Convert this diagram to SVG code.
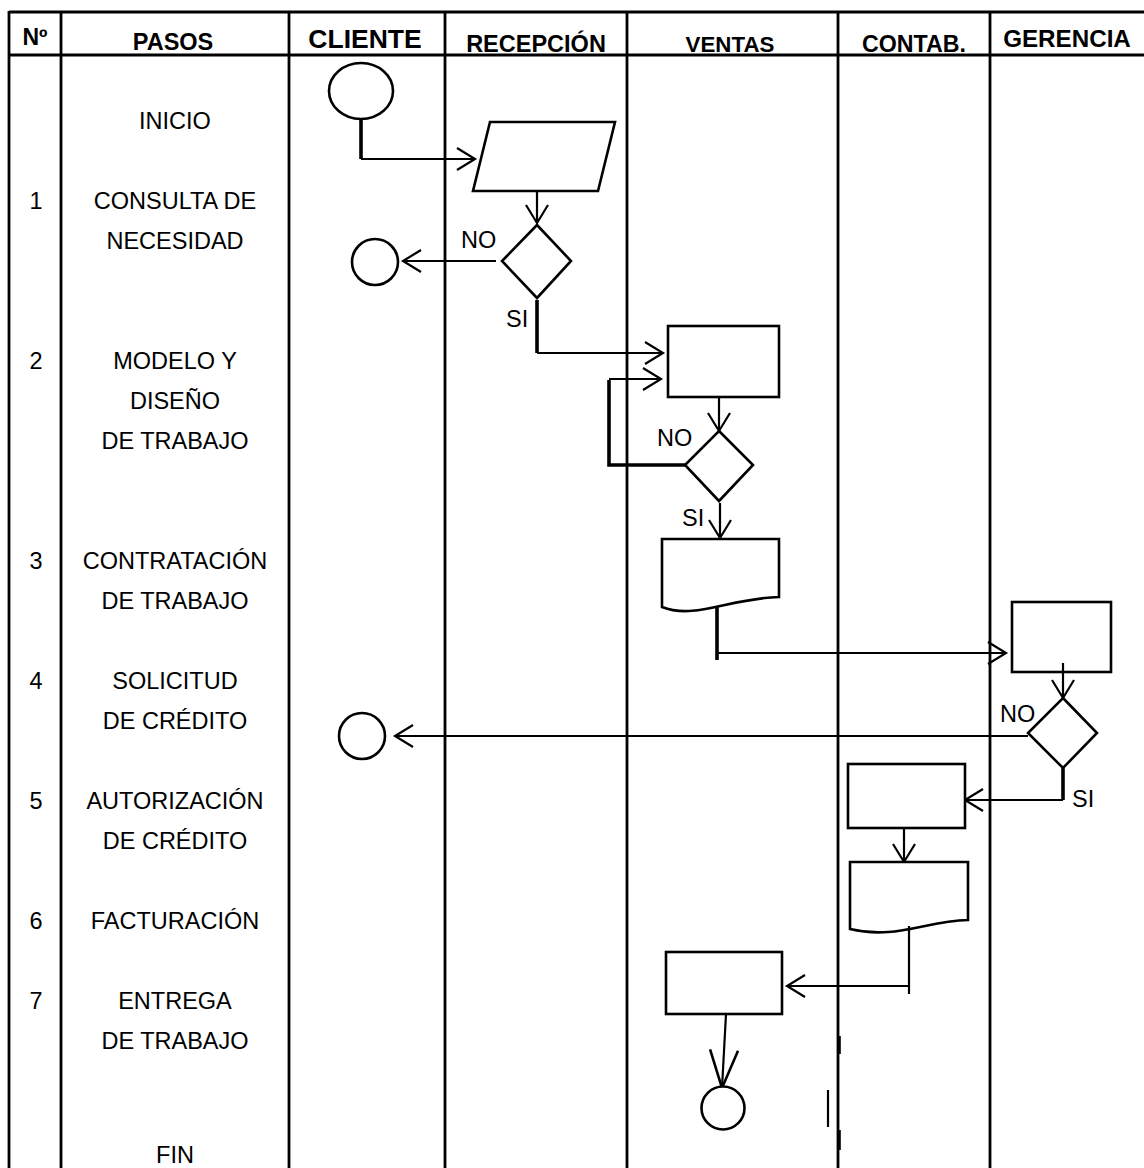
<svg xmlns="http://www.w3.org/2000/svg" width="1144" height="1168" viewBox="0 0 1144 1168">
<style>
.grid{stroke:#000;stroke-width:2.8;fill:none}
.shape{fill:#fff;stroke:#000;stroke-width:2.6}
.conn{fill:none;stroke:#000;stroke-width:2.2}
.thick{fill:none;stroke:#000;stroke-width:3.6}
.hd{font-family:"Liberation Sans",Arial,sans-serif;font-weight:bold;fill:#000;text-anchor:middle}
.tx{font-family:"Liberation Sans",Arial,sans-serif;font-size:23.5px;fill:#000;text-anchor:middle}
.lbl{font-family:"Liberation Sans",Arial,sans-serif;font-size:23.5px;fill:#000}
</style>
<defs>
<marker id="arr" viewBox="-20 -13 22 26" refX="0" refY="0" markerWidth="22" markerHeight="26" markerUnits="userSpaceOnUse" orient="auto" overflow="visible">
<path d="M-18,-11 L0,0 L-18,11" fill="none" stroke="#000" stroke-width="2.2"/>
</marker>
<marker id="arrBig" viewBox="-40 -16 42 32" refX="0" refY="0" markerWidth="42" markerHeight="32" markerUnits="userSpaceOnUse" orient="auto" overflow="visible">
<path d="M-38,-14 L0,0 L-38,14" fill="none" stroke="#000" stroke-width="2.6"/>
</marker>
</defs>
<rect width="1144" height="1168" fill="#fff"/>
<g id="table">
<line class="grid" x1="9" y1="12" x2="1144" y2="12"/>
<line class="grid" x1="9" y1="55" x2="1144" y2="55"/>
<line class="grid" x1="9" y1="11" x2="9" y2="1168"/>
<line class="grid" x1="61" y1="11" x2="61" y2="1168"/>
<line class="grid" x1="289" y1="11" x2="289" y2="1168"/>
<line class="grid" x1="445" y1="11" x2="445" y2="1168"/>
<line class="grid" x1="627" y1="11" x2="627" y2="1168"/>
<line class="grid" x1="838" y1="11" x2="838" y2="1168"/>
<line class="grid" x1="990" y1="11" x2="990" y2="1168"/>
<line x1="839" y1="1036" x2="839" y2="1054" stroke="#000" stroke-width="3.6"/>
<line x1="839" y1="1130" x2="839" y2="1150" stroke="#000" stroke-width="3.6"/>
<line x1="828" y1="1090" x2="828" y2="1127" stroke="#000" stroke-width="2.2"/>
<text class="hd" x="35" y="45" font-size="23">Nº</text>
<text class="hd" x="173" y="50" font-size="23.5">PASOS</text>
<text class="hd" x="365" y="48" font-size="26.5">CLIENTE</text>
<text class="hd" x="536" y="52" font-size="23.5">RECEPCIÓN</text>
<text class="hd" x="730" y="52" font-size="22.3">VENTAS</text>
<text class="hd" x="914" y="52" font-size="23.2">CONTAB.</text>
<text class="hd" x="1067" y="47" font-size="24.2">GERENCIA</text>
</g>
<g id="steps">
<text class="tx" x="175" y="129">INICIO</text>
<text class="tx" x="36" y="209">1</text>
<text class="tx" x="175" y="209">CONSULTA DE</text>
<text class="tx" x="175" y="249">NECESIDAD</text>
<text class="tx" x="36" y="369">2</text>
<text class="tx" x="175" y="369">MODELO Y</text>
<text class="tx" x="175" y="409">DISEÑO</text>
<text class="tx" x="175" y="449">DE TRABAJO</text>
<text class="tx" x="36" y="569">3</text>
<text class="tx" x="175" y="569">CONTRATACIÓN</text>
<text class="tx" x="175" y="609">DE TRABAJO</text>
<text class="tx" x="36" y="689">4</text>
<text class="tx" x="175" y="689">SOLICITUD</text>
<text class="tx" x="175" y="729">DE CRÉDITO</text>
<text class="tx" x="36" y="809">5</text>
<text class="tx" x="175" y="809">AUTORIZACIÓN</text>
<text class="tx" x="175" y="849">DE CRÉDITO</text>
<text class="tx" x="36" y="929">6</text>
<text class="tx" x="175" y="929">FACTURACIÓN</text>
<text class="tx" x="36" y="1009">7</text>
<text class="tx" x="175" y="1009">ENTREGA</text>
<text class="tx" x="175" y="1049">DE TRABAJO</text>
<text class="tx" x="175" y="1163">FIN</text>
</g>
<g id="connectors">
<path class="thick" d="M361,119 V159"/>
<path class="conn" d="M361,159 H475" marker-end="url(#arr)"/>
<path class="conn" d="M537,191 V223" marker-end="url(#arr)"/>
<path class="conn" d="M496,261 H403" marker-end="url(#arr)"/>
<path class="thick" d="M537,300 V353"/>
<path class="conn" d="M537,353 H663" marker-end="url(#arr)"/>
<path class="conn" d="M719,397 V431" marker-end="url(#arr)"/>
<path class="thick" d="M685,465 H609 V380"/>
<path class="conn" d="M609,379 H661" marker-end="url(#arr)"/>
<path class="conn" d="M720,503 V538" marker-end="url(#arr)"/>
<path class="thick" d="M717,607 V660"/>
<path class="conn" d="M717,653 H1006" marker-end="url(#arr)"/>
<path class="conn" d="M1063,663 V698" marker-end="url(#arr)"/>
<path class="conn" d="M1028,736 H395" marker-end="url(#arr)"/>
<path class="thick" d="M1063,768 V800"/>
<path class="conn" d="M1063,800 H965" marker-end="url(#arr)"/>
<path class="conn" d="M904,828 V862" marker-end="url(#arr)"/>
<path class="conn" d="M909,926 V994"/>
<path class="conn" d="M909,986 H787" marker-end="url(#arr)"/>
<path class="conn" d="M726,1014 L722,1088" marker-end="url(#arrBig)"/>
<text class="lbl" x="461" y="248">NO</text>
<text class="lbl" x="506" y="327">SI</text>
<text class="lbl" x="657" y="446">NO</text>
<text class="lbl" x="682" y="526">SI</text>
<text class="lbl" x="1000" y="722">NO</text>
<text class="lbl" x="1072" y="807">SI</text>
</g>
<g id="start"><ellipse class="shape" cx="361" cy="91" rx="32" ry="28"/></g>
<g id="consulta"><polygon class="shape" points="490,122 615,122 598,191 473,191"/></g>
<g id="decision1"><polygon class="shape" points="537,225 571,261 537,298 502,261"/></g>
<g id="end1"><circle class="shape" cx="375" cy="262" r="23"/></g>
<g id="modelo"><rect class="shape" x="668" y="326" width="111" height="71"/></g>
<g id="decision2"><polygon class="shape" points="719,431 753,465 719,501 685,465"/></g>
<g id="contrato"><path class="shape" d="M662,539 H779 V597 C730,598 695,620 662,607 Z"/></g>
<g id="solicitud"><rect class="shape" x="1012" y="602" width="99" height="70"/><line class="conn" x1="1063" y1="663" x2="1063" y2="672"/></g>
<g id="decision3"><polygon class="shape" points="1063,698 1097,733 1063,768 1028,733"/></g>
<g id="end2"><circle class="shape" cx="362" cy="736" r="23"/></g>
<g id="autorizacion"><rect class="shape" x="848" y="764" width="117" height="64"/></g>
<g id="factura"><path class="shape" d="M850,862 H968 V920 C925,921 895,940 850,929 Z"/><line class="conn" x1="909" y1="926" x2="909" y2="932"/></g>
<g id="entrega"><rect class="shape" x="666" y="952" width="116" height="62"/></g>
<g id="fin"><circle class="shape" cx="723" cy="1108" r="21.5"/></g>
</svg>
